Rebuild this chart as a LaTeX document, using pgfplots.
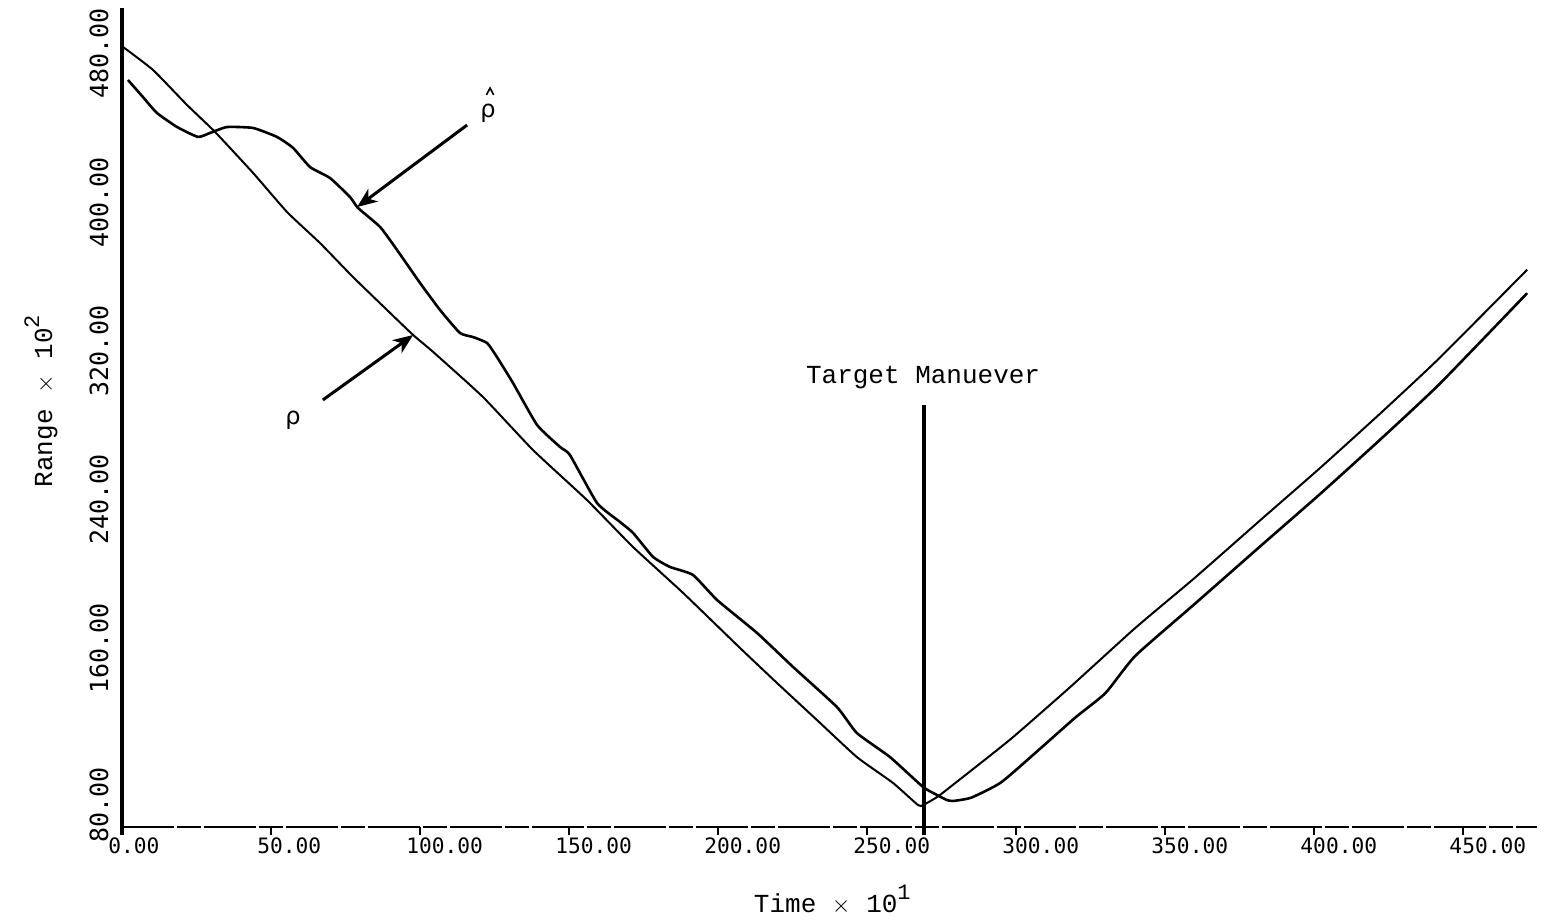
\documentclass[border=0pt]{standalone}
\usepackage{fontspec}
\usepackage{pgfplots}
\pgfplotsset{compat=1.18}
\usetikzlibrary{arrows.meta}
\newfontfamily\plotfont{DejaVu Sans Mono}
\newfontfamily\typefont{Liberation Mono}
\newfontfamily\greekfont{DejaVu Sans}
\newcommand\supnum[1]{\raisebox{0.5em}{\fontsize{11}{11}\selectfont #1}}
\begin{document}
\begin{tikzpicture}
\begin{axis}[
  name=ax,
  scale only axis,
  width=707.5pt, height=409.5pt,
  xmin=0, xmax=474.8, ymin=80, ymax=520.3,
  axis x line*=bottom, axis y line*=left,
  clip=false,
  x axis line style={line width=0.9pt, dash pattern=on 26pt off 1.5pt on 12pt off 1.5pt},
  y axis line style={line width=2pt, shorten <=-4pt},
  xtick={0,50,...,450},
  xticklabels={0.00,50.00,100.00,150.00,200.00,250.00,300.00,350.00,400.00,450.00},
  ytick={80,160,240,320,400,480},
  yticklabels={80.00,160.00,240.00,320.00,400.00,480.00},
  tick align=outside,
  major tick length=4pt,
  xtick style={line width=1pt, black},
  ytick style={draw=none},
  xticklabel style={font=\plotfont\fontsize{10.6}{12}\selectfont, anchor=north west, inner sep=0pt, xshift=-7pt, yshift=-1pt},
  yticklabel style={xshift=-2.5pt, yshift=-8pt, rotate=90, anchor=south west, inner sep=0pt, font=\plotfont\fontsize{12.5}{14}\selectfont},
  xlabel={Time $\times$ 10\supnum{1}},
  ylabel={Range $\times$ 10\supnum{2}},
  xlabel style={at={(axis description cs:0.502,-0.104)}, anchor=base, font=\typefont\fontsize{13}{14}\selectfont, inner sep=0pt},
  ylabel style={at={(axis description cs:-0.0572,0.520)}, anchor=center, rotate=0, font=\typefont\fontsize{13}{14}\selectfont, inner sep=0pt},
]
% true range rho
\addplot[black, line width=1pt, smooth, tension=0.3] coordinates {
(0.3,499.4)(10.4,487.0)(21.8,468.2)(31.2,453.7)(44.0,431.6)(55.4,410.6)(66.4,394.0)(77.5,375.7)(88.9,358.0)(97.7,344.5)(104.4,335.4)(121.1,311.2)(137.9,282.7)(156.0,255.8)(171.5,230.5)(188.3,205.8)(207.4,176.2)(219.8,157.4)(233.2,137.5)(246.6,117.6)(258.7,103.7)(267.1,91.8)(268.8,91.8)(273.5,96.1)(277.9,101.5)(298.0,127)(318.0,155)(340.0,187)(360.0,214)(382.0,245)(402.0,273)(422.0,302)(442.0,332)(471.5,379.6)
};
% estimated range rho-hat
\addplot[black, line width=1.3pt, smooth, tension=0.3] coordinates {
(2.0,481.6)(7.0,472.5)(11.7,463.9)(18.5,456.3)(25.5,451.0)(29.5,453.1)(35.2,456.3)(44.0,455.8)(52.0,451.0)(57.4,445.1)(63.1,434.8)(69.8,428.9)(76.5,418.7)(79.2,412.8)(86.6,402.6)(92.3,390.2)(100.0,372.5)(106.7,358.0)(113.4,345.6)(117.8,343.4)(122.5,340.2)(125.8,332.7)(131.2,318.7)(139.3,296.1)(147.0,284.3)(150.3,280.0)(159.4,254.2)(167.1,244.0)(171.5,238.1)(178.2,225.2)(183.9,219.8)(191.6,215.5)(199.7,202.0)(213.1,184.3)(225.2,166.0)(239.9,144.5)(246.6,130.5)(257.7,117.6)(268.8,101.5)(273.5,97.2)(276.8,94.5)(278.9,94.0)(285.0,95.8)(295.0,104)(308.0,122)(320.0,139)(330.0,152)(340.0,172)(360.0,200)(382.0,231)(402.0,259)(422.0,288)(442.0,318)(471.5,367)
};
% annotations
\draw[line width=1.5pt, -{Stealth[length=10pt,width=8pt,inset=3pt]}] (axis cs:115.8,457.4) -- (axis cs:78.9,413.3);
\draw[line width=1.5pt, -{Stealth[length=10pt,width=8pt,inset=3pt]}] (axis cs:67.4,309.6) -- (axis cs:97.7,344.5);
\node[font=\greekfont\fontsize{12}{12}\selectfont, inner sep=0pt] at (axis cs:122.8,463.9) {ρ};
\draw[line width=0.8pt] (axis cs:122.3,473.6) -- (axis cs:123.5,477.3) -- (axis cs:124.7,473.6);
\node[font=\greekfont\fontsize{12}{12}\selectfont, inner sep=0pt] at (axis cs:57.4,298.8) {ρ};
\node[font=\typefont\fontsize{13}{14}\selectfont, anchor=base, inner sep=0pt] at (axis cs:268.8,318.2) {Target Manuever};
\draw[line width=2pt] (axis cs:269,307) -- (axis cs:269,75.7);
\end{axis}
\pgfresetboundingbox
\path[use as bounding box] (ax.south west) ++(-61pt,-48pt) rectangle ++(774.5pt,461.5pt);
\end{tikzpicture}
\end{document}
